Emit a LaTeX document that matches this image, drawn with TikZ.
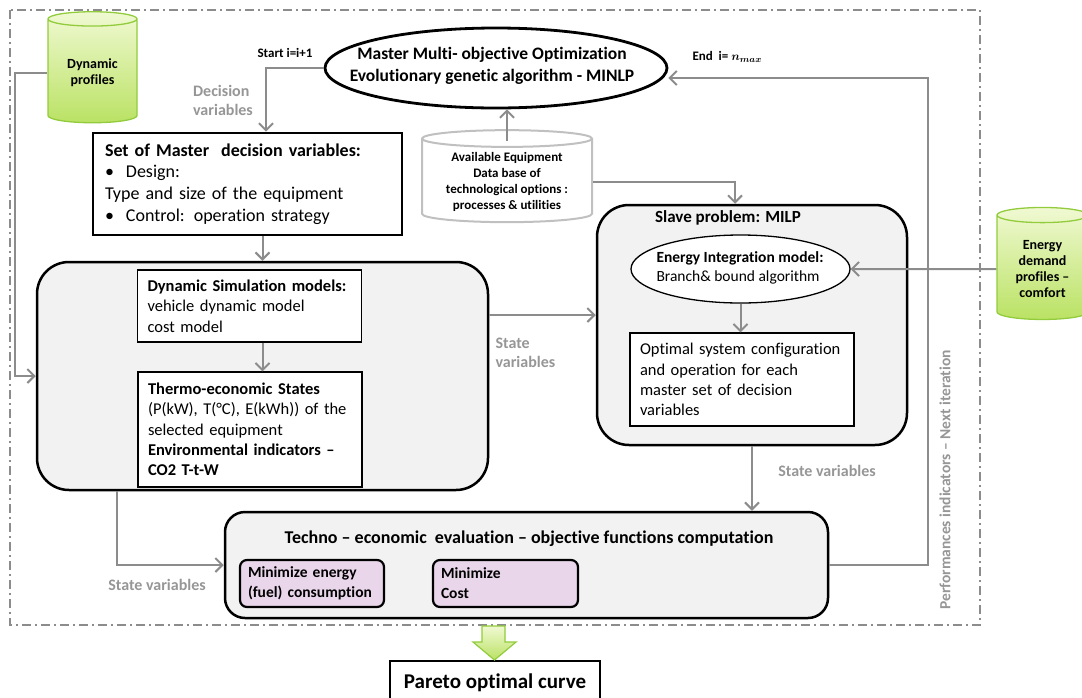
\documentclass[tikz,border=0pt]{standalone}
\usepackage{fontspec}
\setmainfont{Carlito}[Ligatures=NoCommon]
\usetikzlibrary{arrows.meta,shapes.geometric}

\definecolor{linegray}{RGB}{140,140,140}
\definecolor{labelgray}{RGB}{150,150,150}
\definecolor{panelgray}{RGB}{242,242,242}
\definecolor{dbgray}{RGB}{192,192,192}
\definecolor{minpink}{RGB}{234,214,234}
\definecolor{cylline}{RGB}{146,204,60}
\definecolor{cyltop}{RGB}{240,249,210}
\definecolor{cylbot}{RGB}{186,226,100}

\tikzstyle{panel} = [rectangle, draw, line width=2.5pt, fill=panelgray, rounded corners=32pt]
\tikzstyle{block} = [rectangle, draw, line width=1.3pt, fill=white, align=left, inner xsep=10pt,
    font=\fontsize{16.5}{20.3}\selectfont]
\tikzstyle{minbox} = [rectangle, draw, line width=2.2pt, fill=minpink, rounded corners=7pt,
    align=left, inner xsep=8pt, font=\bfseries\fontsize{15.5}{20}\selectfont]
\tikzstyle{profile} = [cylinder, shape border rotate=90, aspect=0.25, draw=cylline, line width=1.3pt,
    top color=cyltop, bottom color=cylbot, align=center, font=\bfseries\fontsize{14}{16}\selectfont]
\tikzstyle{database} = [cylinder, shape border rotate=90, aspect=0.13, draw=dbgray, line width=2pt,
    fill=white, align=center, minimum width=170pt, minimum height=92pt,
    font=\bfseries\fontsize{13}{16.3}\selectfont]
\tikzstyle{conn} = [draw=linegray, line width=2pt, -{Straight Barb[length=7pt,width=14pt]}]
\tikzstyle{varlabel} = [text=labelgray, align=left, font=\bfseries\fontsize{16}{19}\selectfont]
\tikzstyle{small} = [font=\bfseries\fontsize{13}{16}\selectfont]

\begin{document}
\begin{tikzpicture}[x=1pt,y=-1pt]
  \useasboundingbox (0,0) rectangle (1082,697);

  % outer frame
  \draw[linegray, line width=1.5pt, dash pattern=on 9pt off 4pt on 2pt off 4pt] (10,10) rectangle (980,625);

  % panels
  \node[panel, minimum width=451pt, minimum height=228pt] (sim) at (262.5,376) {};
  \node[panel, minimum width=310pt, minimum height=240pt] (slave) at (752,325) {};
  \node[panel, rounded corners=20pt, minimum width=603pt, minimum height=106pt] (techno) at (526.5,565) {};

  % master problem
  \node[ellipse, draw, line width=2.8pt, fill=white, minimum width=342pt, minimum height=80pt] (master) at (496,68) {};
  \node[align=center, font=\bfseries\fontsize{17.5}{22}\selectfont] (mastertxt) at (492,66)
    {Master Multi- objective Optimization\\Evolutionary genetic algorithm - MINLP};
  \node[block, line width=2.8pt, text width=285pt, inner xsep=12pt, minimum height=102pt,
        font=\fontsize{18}{21.7}\selectfont] (set) at (247.5,184)
    {\textbf{Set of Master\ \ decision variables:}\\
     \textbullet\hspace{12pt}Design:\\
     Type and size of the equipment\\
     \textbullet\hspace{12pt}Control: operation strategy};
  \node[database] (db) at (507,182) {Available Equipment\\Data base of\\technological options :\\processes \& utilities};
  \node[profile, minimum width=89pt, minimum height=111pt] (dyn) at (92.5,72.5) {Dynamic\\profiles};
  \node[profile, minimum width=91pt, minimum height=112pt] (edp) at (1042.5,269) {Energy\\demand\\profiles –\\comfort};

  % dynamic simulation
  \node[block, text width=204pt, minimum height=72pt] (simA) at (249.5,306)
    {\textbf{Dynamic Simulation models:}\\vehicle dynamic model\\cost model};
  \node[block, text width=204pt, minimum height=115pt] (simB) at (250,429.5)
    {\textbf{Thermo-economic States}\\(P(kW), T(°C), E(kWh)) of the\\selected equipment\\\textbf{Environmental indicators –}\\\textbf{CO2 T-t-W}};

  % slave problem
  \node[font=\bfseries\fontsize{17}{20}\selectfont] (slavet) at (728,218) {Slave problem: MILP};
  \node[ellipse, draw, line width=1.3pt, fill=white, minimum width=219pt, minimum height=68pt] (eim) at (740.5,269) {};
  \node[align=left, font=\fontsize{15.5}{19}\selectfont] (eimtxt) at (740,267.5)
    {\textbf{Energy Integration model:}\\Branch\& bound algorithm};
  \node[block, text width=204pt, minimum height=93pt] (opt) at (742,379.5)
    {Optimal system configuration\\and operation for each\\master set of decision\\variables};

  % evaluation
  \node[font=\bfseries\fontsize{18}{21}\selectfont] (technot) at (529,539)
    {Techno – economic\ \ evaluation – objective functions computation};
  \node[minbox, text width=128pt, minimum height=47pt] (minE) at (312,583.5) {Minimize energy\\(fuel) consumption};
  \node[minbox, text width=129pt, minimum height=47pt] (minC) at (505.5,583.5) {Minimize\\Cost};

  \node[draw, line width=1.3pt, fill=white, minimum width=210pt, minimum height=44pt,
        font=\bfseries\fontsize{21}{24}\selectfont] (pareto) at (495,683) {Pareto optimal curve};
  \draw[cylline, line width=1.2pt, top color=cyltop, bottom color=cylbot]
    (482,626) -- (505,626) -- (505,642) -- (516,642) -- (494.5,660) -- (473,642) -- (482,642) -- cycle;

  % labels
  \node[small] (start) at (285,53) {Start i=i+1};
  \node[anchor=west, font=\boldmath\bfseries\fontsize{13}{16}\selectfont] (endl) at (689,57) {End\ \ i= $n_{max}$};
  \node[varlabel] (decv) at (223,100) {Decision\\variables};
  \node[varlabel, anchor=west] (sv1) at (492,353) {State\\variables};
  \node[varlabel] (sv2) at (827,471) {State variables};
  \node[varlabel] (sv3) at (157,585) {State variables};
  \node[varlabel, rotate=90, font=\bfseries\fontsize{15.5}{18}\selectfont] (perf) at (945,480)
    {Performances indicators – Next iteration};

  % connectors
  \draw[conn] (dyn.west) -- ++(-32,0) |- (sim.west);
  \draw[conn] (master.west) -| ([xshift=18.5pt]set.north);
  \draw[conn] ([yshift=-12pt]db.north) -- (db.north |- master.south);
  \draw[conn] (db.east) -| ([xshift=-17pt]slave.north);
  \draw[conn] (set.south -| sim.north) -- (sim.north);
  \draw[conn] (simA.south -| sim.north) -- (simB.north -| sim.north);
  \draw[conn] ([yshift=61pt]sim.east) -- ([yshift=61pt]sim.east -| slave.west);
  \draw[conn] (edp.west) -- (eim.east);
  \draw[conn] (eim.south) -- (eim.south |- opt.north);
  \draw[conn] (slave.south) -- (slave.south |- techno.north);
  \draw[conn] ([xshift=-145.5pt]sim.south) |- (techno.west);
  \draw[conn] (techno.east) -- ++(99,0) |- ([yshift=-10pt]master.east);
\end{tikzpicture}
\end{document}
